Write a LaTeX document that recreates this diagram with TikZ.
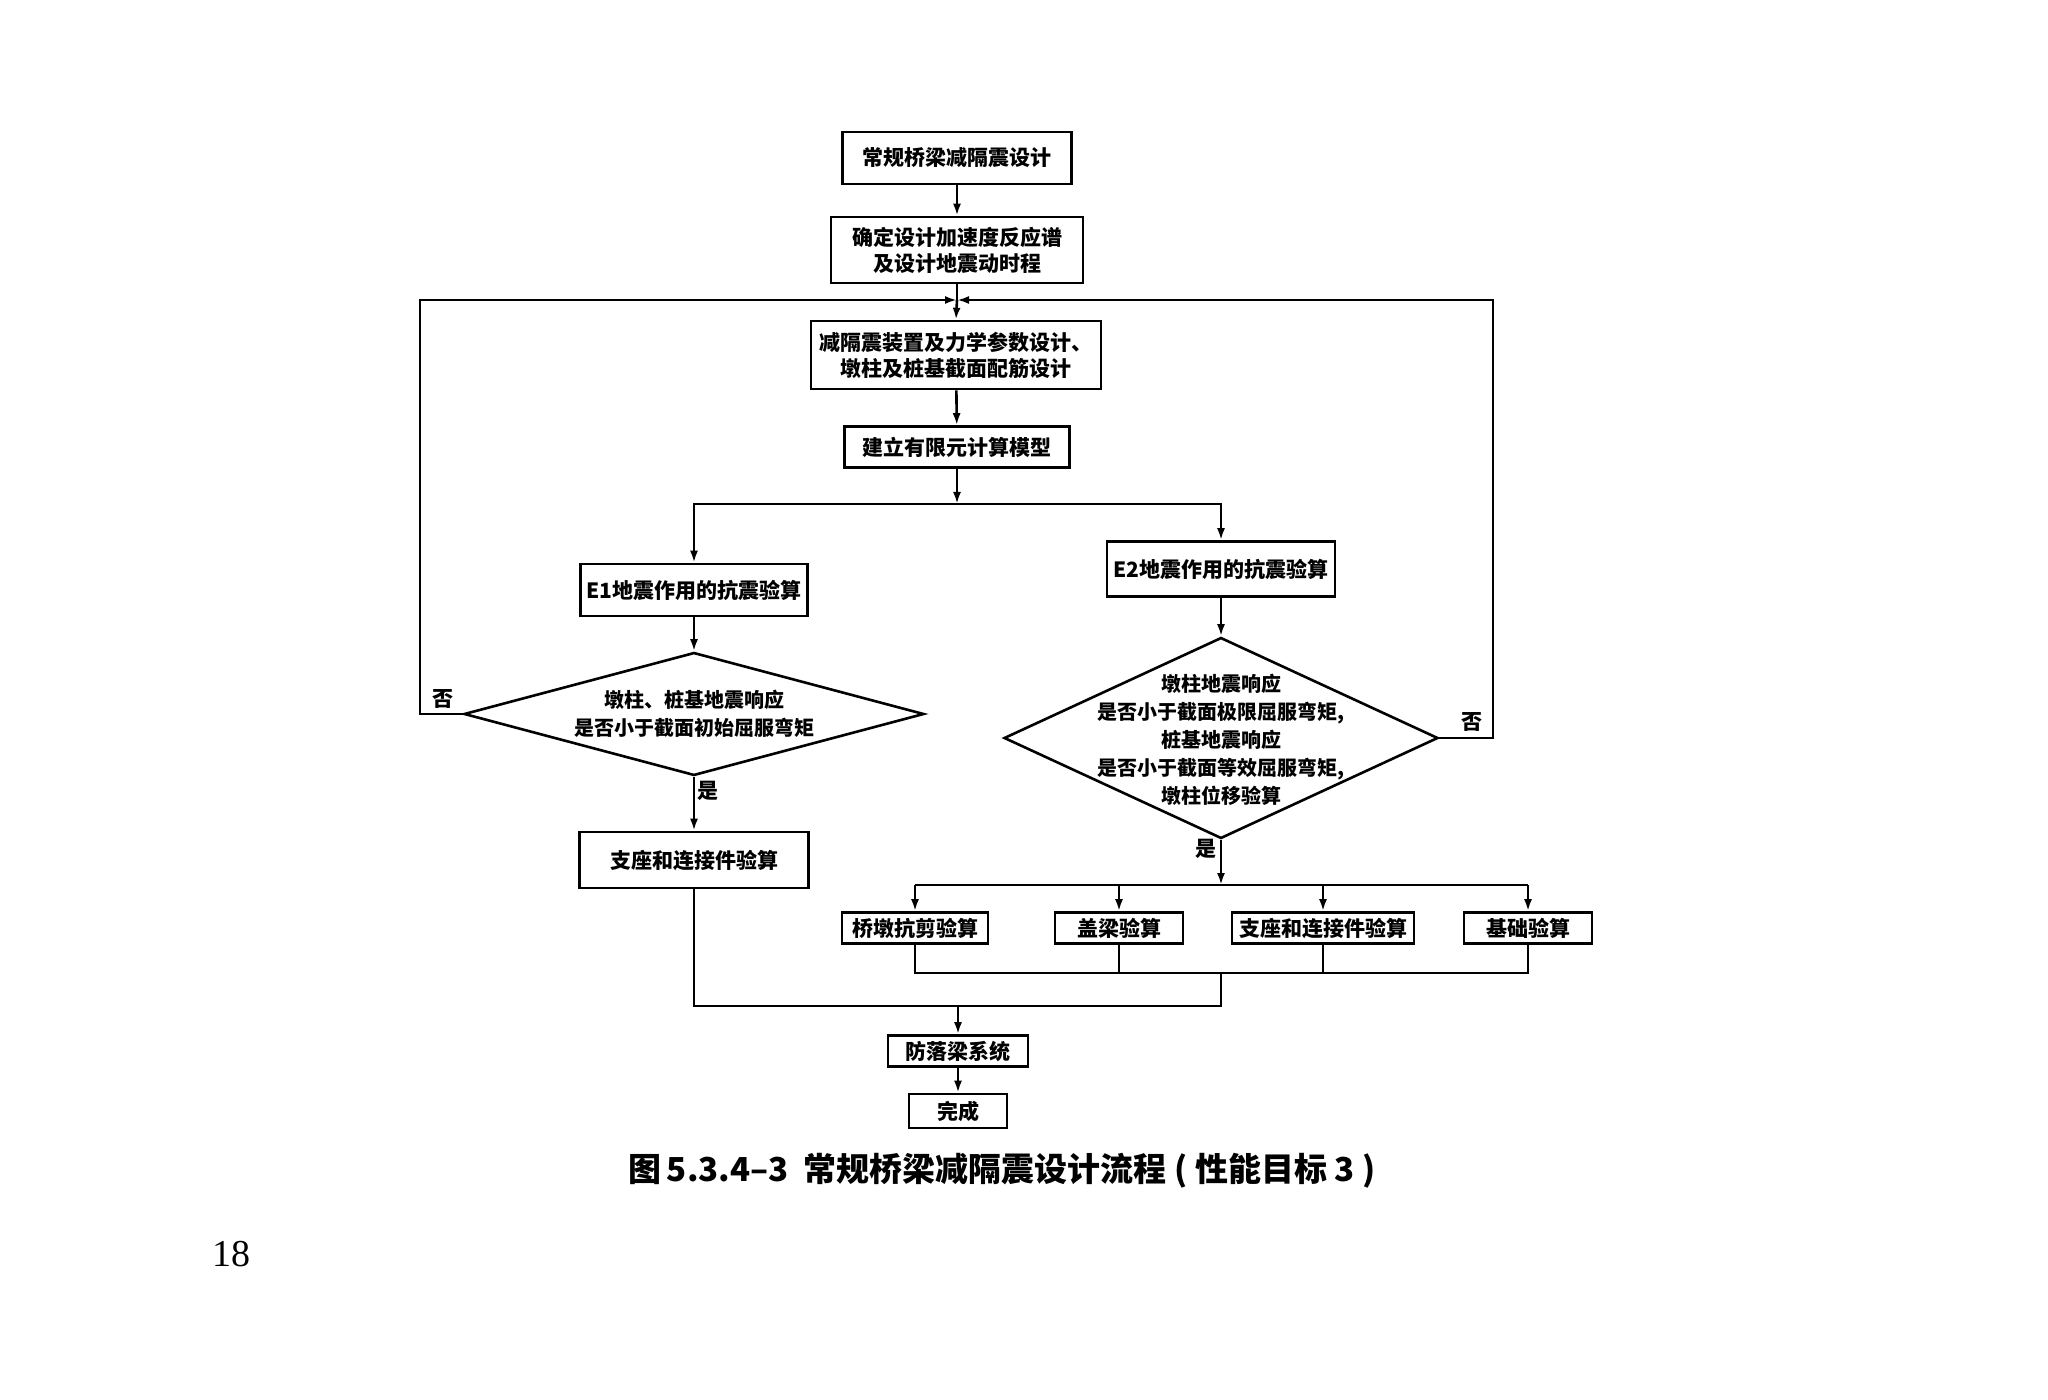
\documentclass[tikz,border=0pt]{standalone}
\usepackage{fontspec}
\setmainfont{Liberation Serif}
\newfontfamily\cjk{Noto Sans CJK SC}
\usepackage{tikz}
\usetikzlibrary{shapes.geometric,arrows.meta}
\tikzset{
  flowline/.style={draw=black, line width=1.3pt},
  flowarrow/.style={flowline, -{Latex[length=6pt,width=4pt]}},
  box/.style={rectangle, draw=black, line width=1.3pt, inner sep=0pt, align=center,
    font=\cjk\bfseries\fontsize{10.5}{13}\selectfont},
  decide/.style={diamond, draw=black, line width=1.3pt, inner sep=0pt},
  decidetext/.style={align=center, inner sep=0pt, font=\cjk\bfseries\fontsize{10}{14}\selectfont},
  lab/.style={inner sep=0pt, font=\cjk\bfseries\fontsize{10.5}{13}\selectfont},
}

\begin{document}
\begin{tikzpicture}[x=0.5pt, y=-0.5pt]
  \useasboundingbox[fill=white] (0,0) rectangle (2048,1400);

  \node[box, minimum width=114.5pt, minimum height=26pt] (start) at (957,158) {常规桥梁减隔震设计};
  \node[box, minimum width=126pt, minimum height=33pt] (spec) at (957,250) {确定设计加速度反应谱\\及设计地震动时程};
  \node[box, minimum width=145pt, minimum height=34pt] (device) at (956,355) {减隔震装置及力学参数设计、\\墩柱及桩基截面配筋设计};
  \node[box, minimum width=112.5pt, minimum height=20.5pt] (model) at (957,447) {建立有限元计算模型};

  \node[box, minimum width=113.5pt, minimum height=26pt] (eone) at (694,590) {E1地震作用的抗震验算};
  \node[box, minimum width=114pt, minimum height=27.5pt] (etwo) at (1221,569) {E2地震作用的抗震验算};

  \node[decide, minimum width=230pt, minimum height=61.5pt] (done) at (694,714) {};
  \node[decidetext] (donetext) at (694,714) {墩柱、桩基地震响应\\是否小于截面初始屈服弯矩};
  \node[decide, minimum width=217pt, minimum height=100.5pt] (dtwo) at (1221,738) {};
  \node[decidetext] (dtwotext) at (1221,740) {墩柱地震响应\\是否小于截面极限屈服弯矩,\\桩基地震响应\\是否小于截面等效屈服弯矩,\\墩柱位移验算};

  \node[box, minimum width=114.5pt, minimum height=28pt] (bearone) at (694,860) {支座和连接件验算};

  \node[box, minimum width=73pt, minimum height=15.5pt] (pier) at (915,928) {桥墩抗剪验算};
  \node[box, minimum width=64pt, minimum height=15.5pt] (cap) at (1119,928) {盖梁验算};
  \node[box, minimum width=91pt, minimum height=15.5pt] (beartwo) at (1323,928) {支座和连接件验算};
  \node[box, minimum width=64pt, minimum height=15.5pt] (found) at (1528,928) {基础验算};

  \node[box, minimum width=70pt, minimum height=15.5pt] (fall) at (958,1051) {防落梁系统};
  \node[box, minimum width=49pt, minimum height=17pt] (finish) at (958,1111) {完成};

  \coordinate (jn) at (957,300);
  \coordinate (lt) at (420,300);
  \coordinate (rt) at (1493,300);
  \coordinate (sp) at (957,504);
  \coordinate (br) at (1221,885);
  \coordinate (brl) at (915,885);
  \coordinate (brr) at (1528,885);
  \coordinate (mgl) at (915,973);
  \coordinate (mgr) at (1528,973);
  \coordinate (mgc) at (1221,973);
  \coordinate (jl) at (694,1006);
  \coordinate (jr) at (1221,1006);
  \coordinate (jc) at (958,1006);

  \draw[flowarrow] (start) -- (spec);
  \draw[flowline] (spec.south) -- (jn);
  \draw[flowarrow] (jn) -- (device.north);
  \draw[flowarrow] (done.west) -| (lt) -- (jn);
  \draw[flowarrow] (dtwo.east) -| (rt) -- (jn);
  \draw[flowarrow] (device) -- (model);
  \draw[flowarrow] (model) -- (sp);
  \draw[flowarrow] (sp) -| (eone.north);
  \draw[flowarrow] (sp) -| (etwo.north);
  \draw[flowarrow] (eone) -- (done.north);
  \draw[flowarrow] (etwo) -- (dtwo.north);
  \draw[flowarrow] (done.south) -- (bearone.north);
  \draw[flowarrow] (dtwo.south) -- (br);
  \draw[flowline] (brl) -- (brr);
  \draw[flowarrow] (brl) -- (pier.north);
  \draw[flowarrow] (brl -| cap) -- (cap.north);
  \draw[flowarrow] (brl -| beartwo) -- (beartwo.north);
  \draw[flowarrow] (brr) -- (found.north);
  \draw[flowline] (pier.south) -- (mgl) -- (mgr) -- (found.south);
  \draw[flowline] (cap.south) -- (mgl -| cap);
  \draw[flowline] (beartwo.south) -- (mgl -| beartwo);
  \draw[flowline] (mgc) -- (jr) -- (jl) -- (bearone.south);
  \draw[flowarrow] (jc) -- (fall.north);
  \draw[flowarrow] (fall) -- (finish);

  \node[lab] (noone) at (443,699) {否};
  \node[lab] (notwo) at (1472,722) {否};
  \node[lab] (yesone) at (708,791) {是};
  \node[lab] (yestwo) at (1206,849) {是};

  \node[inner sep=0pt, font=\cjk\bfseries\fontsize{16.5}{18}\selectfont] (caption) at (1002,1171) {图\,5.3.4–3\ \ 常规桥梁减隔震设计流程\ (\ 性能目标\ 3\ )};
  \node[inner sep=0pt, font=\fontsize{19}{22}\selectfont] (page) at (231,1254) {18};
\end{tikzpicture}
\end{document}
